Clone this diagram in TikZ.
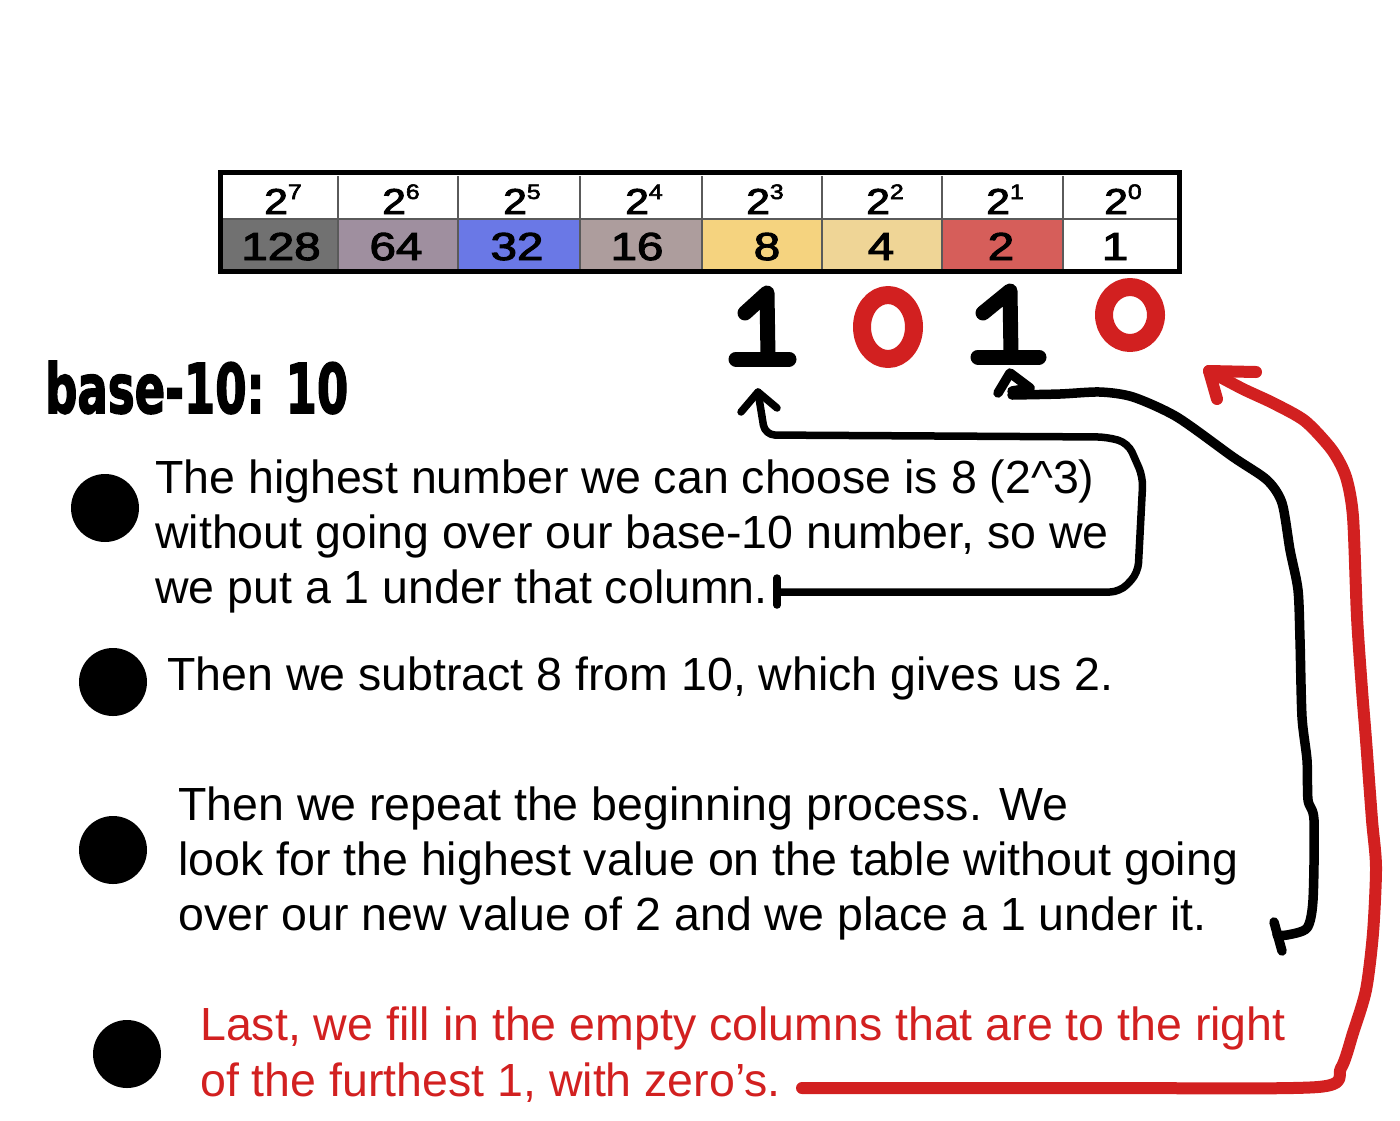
\documentclass[tikz,border=0pt]{standalone}
\usepackage{fontspec}
\usepackage{graphicx}
\setmainfont{Liberation Sans}
\newfontfamily\headfont[FakeBold=2.5]{DejaVu Sans Bold}
\newfontfamily\tabfont[FakeBold=2.5]{Liberation Sans}
\definecolor{handred}{RGB}{210,32,32}
\definecolor{c128}{HTML}{717171}
\definecolor{c64}{HTML}{9F8F9F}
\definecolor{c32}{HTML}{6A78E6}
\definecolor{c16}{HTML}{AD9D9D}
\definecolor{c8}{HTML}{F5D37F}
\definecolor{c4}{HTML}{EFD596}
\definecolor{c2}{HTML}{D65E5A}
\definecolor{gridgray}{HTML}{5A5A5A}
\tikzset{
  body/.style={anchor=base west, inner sep=0pt, font=\fontsize{46.5}{55}\selectfont},
  redbody/.style={body, text=handred},
  bullet/.style={circle, fill=black, inner sep=0pt, minimum size=68pt},
  hdr/.style={anchor=base, inner sep=0pt, font=\tabfont\fontsize{36}{36}\selectfont},
  val/.style={anchor=base, inner sep=0pt, font=\tabfont\fontsize{39}{39}\selectfont},
  blackpen/.style={draw=black, line width=9.5pt, line cap=round, line join=round},
  thinpen/.style={draw=black, line width=7.5pt, line cap=round, line join=round},
  redpen/.style={draw=handred, line width=12pt, line cap=round, line join=round},
  digitpen/.style={line width=15pt, line cap=round, line join=round},
}
\newcommand{\pw}[1]{\scalebox{1.18}[1]{2\raisebox{15pt}{\fontsize{21}{21}\selectfont #1}}}
\newcommand{\vv}[1]{\scalebox{1.22}[1]{#1}}
\begin{document}
\begin{tikzpicture}[x=1pt,y=-1pt]
\useasboundingbox (0,0) rectangle (1400,1120);
% ---------- table ----------
\fill[white] (222,176) rectangle (1177,219);
\fill[c128] (222,219) rectangle (338,270);
\fill[c64]  (338,219) rectangle (458,270);
\fill[c32]  (458,219) rectangle (580,270);
\fill[c16]  (580,219) rectangle (702,270);
\fill[c8]   (702,219) rectangle (822,270);
\fill[c4]   (822,219) rectangle (942,270);
\fill[c2]   (942,219) rectangle (1063,270);
\fill[white](1063,219) rectangle (1177,270);
\foreach \x in {338,458,580,702,822,942,1063}
  \draw[gridgray, line width=2pt] (\x,176) -- (\x,270);
\draw[gridgray, line width=2.5pt] (222,219) -- (1177,219);
\draw[black, line width=5pt] (220.5,172) rectangle (1179.5,271);
% headers
\node[hdr] (h7) at (283,214) {\pw{7}};
\node[hdr] (h6) at (401,214) {\pw{6}};
\node[hdr] (h5) at (522,214) {\pw{5}};
\node[hdr] (h4) at (644,214) {\pw{4}};
\node[hdr] (h3) at (765,214) {\pw{3}};
\node[hdr] (h2) at (885,214) {\pw{2}};
\node[hdr] (h1) at (1005,214) {\pw{1}};
\node[hdr] (h0) at (1123,214) {\pw{0}};
% values
\node[val] (v128) at (281,260) {\vv{128}};
\node[val] (v64)  at (396,260) {\vv{64}};
\node[val] (v32)  at (517,260) {\vv{32}};
\node[val] (v16)  at (637,260) {\vv{16}};
\node[val] (v8)   at (767,260) {\vv{8}};
\node[val] (v4)   at (881,260) {\vv{4}};
\node[val] (v2)   at (1001,260) {\vv{2}};
\node[val] (v1)   at (1115,260) {\vv{1}};
% ---------- handwritten digits ----------
\draw[digitpen, black] (745,313) -- (767,293) -- (768,357);
\draw[digitpen, black] (736,359) -- (789,359);
\draw[digitpen, handred, line width=18pt] (888,327) ellipse [x radius=26, y radius=32];
\draw[digitpen, black] (983,313) -- (1010,291) -- (1011,355);
\draw[digitpen, black] (978,357) -- (1039,357);
\draw[digitpen, handred, line width=18pt] (1130,315) ellipse [x radius=26, y radius=28];
\coordinate (oneA) at (758,392);
\coordinate (oneB) at (1010,373);
\coordinate (zeroB) at (1209,371);
% ---------- heading ----------
\node[anchor=base west, inner sep=0pt] (head) at (45,413)
  {\resizebox{303pt}{52pt}{\headfont base-10: 10}};
% ---------- bullets ----------
\node[bullet] (b1) at (105,508) {};
\node[bullet] (b2) at (113,682) {};
\node[bullet] (b3) at (113,850) {};
\node[bullet] (b4) at (127,1054) {};
% ---------- texts ----------
\node[body] (t1a) at (155,493) {The highest number we can choose is 8 (2\^{}3)};
\node[body] (t1b) at (155,548) {without going over our base-10 number, so we};
\node[body] (t1c) at (155,603) {we put a 1 under that column.};
\node[body] (t2)  at (167,690) {Then we subtract 8 from 10, which gives us 2.};
\node[body] (t3a) at (178,820) {Then we repeat the beginning process. We};
\node[body] (t3b) at (178,875) {look for the highest value on the table without going};
\node[body] (t3c) at (178,930) {over our new value of 2 and we place a 1 under it.};
\node[redbody] (t4a) at (200,1040) {Last, we fill in the empty columns that are to the right};
\node[redbody] (t4b) at (200,1096) {of the furthest 1, with zero’s.};
% ---------- connector 1 (text 1 -> first 1) ----------
\coordinate (s1) at (777,592);
\draw[thinpen] (777,578) -- (777,605);
\draw[thinpen, rounded corners=10pt] (s1) -- (1120,592) -- (1138,573) -- (1143,477)
   -- (1128,443) -- (1107,437) -- (765,435) -- (oneA);
\draw[thinpen] (741,412) -- (oneA) -- (777,408);
% ---------- connector 2 (second 1 -> text 3) ----------
\coordinate (e2) at (1277,935);
\draw[blackpen] (998,393) -- (oneB) -- (1030,388) -- (1012,391);
\draw[blackpen] plot[smooth, tension=0.45] coordinates {
  (1012,395) (1060,394) (1100,392) (1133,397) (1177,417) (1233,457) (1267,480)
  (1282,503) (1290,550) (1298,590) (1300,640) (1302,717) (1307,760) (1308,800)
  (1314,820) (1313,900) (1307,928) (1287,935) (e2)};
\draw[blackpen] (1274,922) -- (1282,951);
% ---------- connector 3 (text 4 -> last 0) ----------
\coordinate (s3) at (802,1088);
\draw[redpen] plot[smooth, tension=0.45] coordinates {
  (s3) (1100,1088) (1318,1087) (1341,1068) (1353,1033) (1366,990) (1373,933)
  (1376,867) (1372,820) (1366,740) (1362,690) (1357,617) (1353,517) (1346,477)
  (1332,450) (1305,421) (1273,403) (1243,389) (zeroB)};
\draw[redpen] (1256,372) -- (zeroB) -- (1217,399);
\end{tikzpicture}
\end{document}
